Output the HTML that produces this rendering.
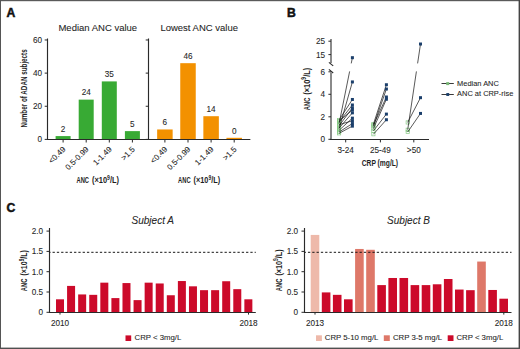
<!DOCTYPE html>
<html><head><meta charset="utf-8"><style>
html,body{margin:0;padding:0;background:#fff;width:520px;height:349px;overflow:hidden}
svg{display:block}
text{font-family:"Liberation Sans",sans-serif}
</style></head><body>
<svg width="520" height="349" viewBox="0 0 520 349">
<rect x="0" y="0" width="520" height="349" fill="#fff"/>
<text x="6.6" y="17.0" font-size="12.2" text-anchor="start" fill="#111" stroke="#111" stroke-width="0.5" font-weight="bold">A</text>
<text x="97.8" y="31.4" font-size="9.5" text-anchor="middle" fill="#262626" stroke="#262626" stroke-width="0.08" >Median ANC value</text>
<text x="199.2" y="31.4" font-size="9.5" text-anchor="middle" fill="#262626" stroke="#262626" stroke-width="0.08" >Lowest ANC value</text>
<line x1="47.5" y1="38.5" x2="47.5" y2="140.0" stroke="#2a2a2a" stroke-width="1.15" />
<line x1="44.7" y1="139.4" x2="47.5" y2="139.4" stroke="#2a2a2a" stroke-width="1" />
<line x1="44.7" y1="106.26" x2="47.5" y2="106.26" stroke="#2a2a2a" stroke-width="1" />
<line x1="44.7" y1="73.12" x2="47.5" y2="73.12" stroke="#2a2a2a" stroke-width="1" />
<line x1="44.7" y1="39.980000000000004" x2="47.5" y2="39.980000000000004" stroke="#2a2a2a" stroke-width="1" />
<line x1="148.5" y1="38.5" x2="148.5" y2="140.0" stroke="#2a2a2a" stroke-width="1.15" />
<line x1="145.7" y1="139.4" x2="148.5" y2="139.4" stroke="#2a2a2a" stroke-width="1" />
<line x1="145.7" y1="106.26" x2="148.5" y2="106.26" stroke="#2a2a2a" stroke-width="1" />
<line x1="145.7" y1="73.12" x2="148.5" y2="73.12" stroke="#2a2a2a" stroke-width="1" />
<line x1="145.7" y1="39.980000000000004" x2="148.5" y2="39.980000000000004" stroke="#2a2a2a" stroke-width="1" />
<text x="42.0" y="142.3" font-size="8.2" text-anchor="end" fill="#262626" stroke="#262626" stroke-width="0.08" >0</text>
<text x="42.0" y="109.16000000000001" font-size="8.2" text-anchor="end" fill="#262626" stroke="#262626" stroke-width="0.08" >20</text>
<text x="42.0" y="76.02000000000001" font-size="8.2" text-anchor="end" fill="#262626" stroke="#262626" stroke-width="0.08" >40</text>
<text x="42.0" y="42.88" font-size="8.2" text-anchor="end" fill="#262626" stroke="#262626" stroke-width="0.08" >60</text>
<line x1="47.0" y1="139.5" x2="250.2" y2="139.5" stroke="#2a2a2a" stroke-width="1.15" />
<rect x="55.60" y="136.09" width="15.00" height="3.31" fill="#38aa34" />
<text x="63.1" y="131.786" font-size="8.2" text-anchor="middle" fill="#262626" stroke="#262626" stroke-width="0.08" >2</text>
<line x1="63.1" y1="139.4" x2="63.1" y2="142.5" stroke="#2a2a2a" stroke-width="1" />
<text transform="translate(66.1,149.8) rotate(-45)" font-size="8" text-anchor="end" fill="#262626" stroke="#262626" stroke-width="0.08">&lt;0.49</text>
<rect x="78.70" y="99.63" width="15.00" height="39.77" fill="#38aa34" />
<text x="86.2" y="95.33200000000001" font-size="8.2" text-anchor="middle" fill="#262626" stroke="#262626" stroke-width="0.08" >24</text>
<line x1="86.2" y1="139.4" x2="86.2" y2="142.5" stroke="#2a2a2a" stroke-width="1" />
<text transform="translate(89.2,149.8) rotate(-45)" font-size="8" text-anchor="end" fill="#262626" stroke="#262626" stroke-width="0.08">0.5-0.99</text>
<rect x="101.80" y="81.41" width="15.00" height="58.00" fill="#38aa34" />
<text x="109.30000000000001" y="77.105" font-size="8.2" text-anchor="middle" fill="#262626" stroke="#262626" stroke-width="0.08" >35</text>
<line x1="109.30000000000001" y1="139.4" x2="109.30000000000001" y2="142.5" stroke="#2a2a2a" stroke-width="1" />
<text transform="translate(112.30000000000001,149.8) rotate(-45)" font-size="8" text-anchor="end" fill="#262626" stroke="#262626" stroke-width="0.08">1-1.49</text>
<rect x="124.90" y="131.12" width="15.00" height="8.28" fill="#38aa34" />
<text x="132.4" y="126.81500000000001" font-size="8.2" text-anchor="middle" fill="#262626" stroke="#262626" stroke-width="0.08" >5</text>
<line x1="132.4" y1="139.4" x2="132.4" y2="142.5" stroke="#2a2a2a" stroke-width="1" />
<text transform="translate(135.4,149.8) rotate(-45)" font-size="8" text-anchor="end" fill="#262626" stroke="#262626" stroke-width="0.08">&gt;1.5</text>
<rect x="157.15" y="129.46" width="15.50" height="9.94" fill="#f39100" />
<text x="164.9" y="125.158" font-size="8.2" text-anchor="middle" fill="#262626" stroke="#262626" stroke-width="0.08" >6</text>
<line x1="164.9" y1="139.4" x2="164.9" y2="142.5" stroke="#2a2a2a" stroke-width="1" />
<text transform="translate(167.9,149.8) rotate(-45)" font-size="8" text-anchor="end" fill="#262626" stroke="#262626" stroke-width="0.08">&lt;0.49</text>
<rect x="180.25" y="63.18" width="15.50" height="76.22" fill="#f39100" />
<text x="188.0" y="58.878" font-size="8.2" text-anchor="middle" fill="#262626" stroke="#262626" stroke-width="0.08" >46</text>
<line x1="188.0" y1="139.4" x2="188.0" y2="142.5" stroke="#2a2a2a" stroke-width="1" />
<text transform="translate(191.0,149.8) rotate(-45)" font-size="8" text-anchor="end" fill="#262626" stroke="#262626" stroke-width="0.08">0.5-0.99</text>
<rect x="203.35" y="116.20" width="15.50" height="23.20" fill="#f39100" />
<text x="211.10000000000002" y="111.902" font-size="8.2" text-anchor="middle" fill="#262626" stroke="#262626" stroke-width="0.08" >14</text>
<line x1="211.10000000000002" y1="139.4" x2="211.10000000000002" y2="142.5" stroke="#2a2a2a" stroke-width="1" />
<text transform="translate(214.10000000000002,149.8) rotate(-45)" font-size="8" text-anchor="end" fill="#262626" stroke="#262626" stroke-width="0.08">1-1.49</text>
<rect x="226.45" y="137.80" width="15.50" height="1.60" fill="#f39100" />
<text x="234.20000000000002" y="133.7" font-size="8.2" text-anchor="middle" fill="#262626" stroke="#262626" stroke-width="0.08" >0</text>
<line x1="234.20000000000002" y1="139.4" x2="234.20000000000002" y2="142.5" stroke="#2a2a2a" stroke-width="1" />
<text transform="translate(237.20000000000002,149.8) rotate(-45)" font-size="8" text-anchor="end" fill="#262626" stroke="#262626" stroke-width="0.08">&gt;1.5</text>
<line x1="47.0" y1="139.5" x2="250.2" y2="139.5" stroke="#2a2a2a" stroke-width="1.15" />
<g transform="translate(76.5,183.1)"><text x="0" y="0" font-size="9.6" font-weight="bold" fill="#1e1e1e" textLength="12.5" lengthAdjust="spacingAndGlyphs">ANC</text><text x="15.5" y="0" font-size="9.6" font-weight="bold" fill="#1e1e1e" textLength="27.0" lengthAdjust="spacingAndGlyphs">(×10<tspan font-size="6.6" dy="-3.5">9</tspan><tspan dy="3.5">/L)</tspan></text></g>
<g transform="translate(178.1,183.1)"><text x="0" y="0" font-size="9.6" font-weight="bold" fill="#1e1e1e" textLength="12.5" lengthAdjust="spacingAndGlyphs">ANC</text><text x="15.5" y="0" font-size="9.6" font-weight="bold" fill="#1e1e1e" textLength="26.5" lengthAdjust="spacingAndGlyphs">(×10<tspan font-size="6.6" dy="-3.5">9</tspan><tspan dy="3.5">/L)</tspan></text></g>
<g transform="translate(26.7,127.6) rotate(-90)"><text x="0" y="0" font-size="9.4" font-weight="bold" fill="#1e1e1e" textLength="78.3" lengthAdjust="spacingAndGlyphs">Number of ADAN subjects</text></g>
<text x="286.9" y="16.8" font-size="12.2" text-anchor="start" fill="#111" stroke="#111" stroke-width="0.5" font-weight="bold">B</text>
<line x1="331.0" y1="38.9" x2="331.0" y2="63.0" stroke="#2a2a2a" stroke-width="1.1" />
<line x1="328.9" y1="62.3" x2="333.2" y2="65.9" stroke="#2a2a2a" stroke-width="1.1" />
<line x1="328.9" y1="69.4" x2="333.2" y2="73.0" stroke="#2a2a2a" stroke-width="1.1" />
<line x1="331.0" y1="72.6" x2="331.0" y2="139.9" stroke="#2a2a2a" stroke-width="1.1" />
<line x1="328.4" y1="41.2" x2="331.0" y2="41.2" stroke="#2a2a2a" stroke-width="1" />
<text x="325.0" y="44.1" font-size="8.2" text-anchor="end" fill="#262626" stroke="#262626" stroke-width="0.08" >25</text>
<line x1="328.4" y1="54.6" x2="331.0" y2="54.6" stroke="#2a2a2a" stroke-width="1" />
<text x="325.0" y="57.5" font-size="8.2" text-anchor="end" fill="#262626" stroke="#262626" stroke-width="0.08" >15</text>
<line x1="328.4" y1="139.3" x2="331.0" y2="139.3" stroke="#2a2a2a" stroke-width="1" />
<text x="325.0" y="142.20000000000002" font-size="8.2" text-anchor="end" fill="#262626" stroke="#262626" stroke-width="0.08" >0</text>
<line x1="328.4" y1="116.80000000000001" x2="331.0" y2="116.80000000000001" stroke="#2a2a2a" stroke-width="1" />
<text x="325.0" y="119.70000000000002" font-size="8.2" text-anchor="end" fill="#262626" stroke="#262626" stroke-width="0.08" >2</text>
<line x1="328.4" y1="94.30000000000001" x2="331.0" y2="94.30000000000001" stroke="#2a2a2a" stroke-width="1" />
<text x="325.0" y="97.20000000000002" font-size="8.2" text-anchor="end" fill="#262626" stroke="#262626" stroke-width="0.08" >4</text>
<line x1="328.4" y1="71.80000000000001" x2="331.0" y2="71.80000000000001" stroke="#2a2a2a" stroke-width="1" />
<text x="325.0" y="74.70000000000002" font-size="8.2" text-anchor="end" fill="#262626" stroke="#262626" stroke-width="0.08" >6</text>
<line x1="330.0" y1="139.5" x2="429.0" y2="139.5" stroke="#2a2a2a" stroke-width="1.15" />
<line x1="345.7" y1="139.4" x2="345.7" y2="142.4" stroke="#2a2a2a" stroke-width="1" />
<text x="345.7" y="153.0" font-size="8.2" text-anchor="middle" fill="#262626" stroke="#262626" stroke-width="0.08" >3-24</text>
<line x1="380.4" y1="139.4" x2="380.4" y2="142.4" stroke="#2a2a2a" stroke-width="1" />
<text x="380.4" y="153.0" font-size="8.2" text-anchor="middle" fill="#262626" stroke="#262626" stroke-width="0.08" >25-49</text>
<line x1="413.8" y1="139.4" x2="413.8" y2="142.4" stroke="#2a2a2a" stroke-width="1" />
<text x="413.8" y="153.0" font-size="8.2" text-anchor="middle" fill="#262626" stroke="#262626" stroke-width="0.08" >&gt;50</text>
<g transform="translate(361.7,166.4)"><text x="0" y="0" font-size="9.6" font-weight="bold" fill="#1e1e1e" textLength="36.4" lengthAdjust="spacingAndGlyphs">CRP (mg/L)</text></g>
<g transform="translate(309.8,110.2) rotate(-90)"><text x="0" y="0" font-size="9.6" font-weight="bold" fill="#1e1e1e" textLength="12.5" lengthAdjust="spacingAndGlyphs">ANC</text><text x="15.5" y="0" font-size="9.6" font-weight="bold" fill="#1e1e1e" textLength="27.0" lengthAdjust="spacingAndGlyphs">(×10<tspan font-size="6.6" dy="-3.5">9</tspan><tspan dy="3.5">/L)</tspan></text></g>
<rect x="337.50" y="121.95" width="3.2" height="3.2" fill="none" stroke="#86c984" stroke-width="0.7"/>
<rect x="337.50" y="127.01" width="3.2" height="3.2" fill="none" stroke="#86c984" stroke-width="0.7"/>
<rect x="337.50" y="118.35" width="3.2" height="3.2" fill="none" stroke="#86c984" stroke-width="0.7"/>
<rect x="337.50" y="120.26" width="3.2" height="3.2" fill="none" stroke="#86c984" stroke-width="0.7"/>
<rect x="337.50" y="124.20" width="3.2" height="3.2" fill="none" stroke="#86c984" stroke-width="0.7"/>
<rect x="337.50" y="119.48" width="3.2" height="3.2" fill="none" stroke="#86c984" stroke-width="0.7"/>
<rect x="337.50" y="126.45" width="3.2" height="3.2" fill="none" stroke="#86c984" stroke-width="0.7"/>
<rect x="337.50" y="128.70" width="3.2" height="3.2" fill="none" stroke="#86c984" stroke-width="0.7"/>
<rect x="337.50" y="123.08" width="3.2" height="3.2" fill="none" stroke="#86c984" stroke-width="0.7"/>
<rect x="337.50" y="130.39" width="3.2" height="3.2" fill="none" stroke="#86c984" stroke-width="0.7"/>
<rect x="337.50" y="131.74" width="3.2" height="3.2" fill="none" stroke="#86c984" stroke-width="0.7"/>
<rect x="371.80" y="122.51" width="3.2" height="3.2" fill="none" stroke="#86c984" stroke-width="0.7"/>
<rect x="371.80" y="124.76" width="3.2" height="3.2" fill="none" stroke="#86c984" stroke-width="0.7"/>
<rect x="371.80" y="123.64" width="3.2" height="3.2" fill="none" stroke="#86c984" stroke-width="0.7"/>
<rect x="371.80" y="127.01" width="3.2" height="3.2" fill="none" stroke="#86c984" stroke-width="0.7"/>
<rect x="371.80" y="129.26" width="3.2" height="3.2" fill="none" stroke="#86c984" stroke-width="0.7"/>
<rect x="371.80" y="132.64" width="3.2" height="3.2" fill="none" stroke="#86c984" stroke-width="0.7"/>
<rect x="406.10" y="128.14" width="3.2" height="3.2" fill="none" stroke="#86c984" stroke-width="0.7"/>
<rect x="406.10" y="120.83" width="3.2" height="3.2" fill="none" stroke="#86c984" stroke-width="0.7"/>
<rect x="406.10" y="130.39" width="3.2" height="3.2" fill="none" stroke="#86c984" stroke-width="0.7"/>
<line x1="339.1" y1="123.55" x2="352.4" y2="57.68" stroke="#111" stroke-width="0.7"/>
<line x1="339.1" y1="128.61" x2="352.4" y2="81.93" stroke="#111" stroke-width="0.7"/>
<line x1="339.1" y1="119.95" x2="352.4" y2="99.48" stroke="#111" stroke-width="0.7"/>
<line x1="339.1" y1="121.86" x2="352.4" y2="104.99" stroke="#111" stroke-width="0.7"/>
<line x1="339.1" y1="125.80" x2="352.4" y2="107.80" stroke="#111" stroke-width="0.7"/>
<line x1="339.1" y1="121.08" x2="352.4" y2="110.05" stroke="#111" stroke-width="0.7"/>
<line x1="339.1" y1="128.05" x2="352.4" y2="112.86" stroke="#111" stroke-width="0.7"/>
<line x1="339.1" y1="130.30" x2="352.4" y2="118.15" stroke="#111" stroke-width="0.7"/>
<line x1="339.1" y1="124.68" x2="352.4" y2="120.74" stroke="#111" stroke-width="0.7"/>
<line x1="339.1" y1="131.99" x2="352.4" y2="123.55" stroke="#111" stroke-width="0.7"/>
<line x1="339.1" y1="133.34" x2="352.4" y2="126.14" stroke="#111" stroke-width="0.7"/>
<line x1="373.4" y1="124.11" x2="386.4" y2="84.74" stroke="#111" stroke-width="0.7"/>
<line x1="373.4" y1="126.36" x2="386.4" y2="89.01" stroke="#111" stroke-width="0.7"/>
<line x1="373.4" y1="125.24" x2="386.4" y2="97.00" stroke="#111" stroke-width="0.7"/>
<line x1="373.4" y1="128.61" x2="386.4" y2="99.25" stroke="#111" stroke-width="0.7"/>
<line x1="373.4" y1="130.86" x2="386.4" y2="114.10" stroke="#111" stroke-width="0.7"/>
<line x1="373.4" y1="134.24" x2="386.4" y2="119.73" stroke="#111" stroke-width="0.7"/>
<line x1="407.7" y1="129.74" x2="420.5" y2="44.01" stroke="#111" stroke-width="0.7"/>
<line x1="407.7" y1="122.43" x2="420.5" y2="97.68" stroke="#111" stroke-width="0.7"/>
<line x1="407.7" y1="131.99" x2="420.5" y2="113.43" stroke="#111" stroke-width="0.7"/>
<rect x="334.50" y="63.40" width="95.00" height="8.00" fill="#fff" />
<rect x="350.90" y="56.18" width="3.00" height="3.00" fill="#1b3f6b" />
<rect x="350.90" y="80.43" width="3.00" height="3.00" fill="#1b3f6b" />
<rect x="350.90" y="97.98" width="3.00" height="3.00" fill="#1b3f6b" />
<rect x="350.90" y="103.49" width="3.00" height="3.00" fill="#1b3f6b" />
<rect x="350.90" y="106.30" width="3.00" height="3.00" fill="#1b3f6b" />
<rect x="350.90" y="108.55" width="3.00" height="3.00" fill="#1b3f6b" />
<rect x="350.90" y="111.36" width="3.00" height="3.00" fill="#1b3f6b" />
<rect x="350.90" y="116.65" width="3.00" height="3.00" fill="#1b3f6b" />
<rect x="350.90" y="119.24" width="3.00" height="3.00" fill="#1b3f6b" />
<rect x="350.90" y="122.05" width="3.00" height="3.00" fill="#1b3f6b" />
<rect x="350.90" y="124.64" width="3.00" height="3.00" fill="#1b3f6b" />
<rect x="384.90" y="83.24" width="3.00" height="3.00" fill="#1b3f6b" />
<rect x="384.90" y="87.51" width="3.00" height="3.00" fill="#1b3f6b" />
<rect x="384.90" y="95.50" width="3.00" height="3.00" fill="#1b3f6b" />
<rect x="384.90" y="97.75" width="3.00" height="3.00" fill="#1b3f6b" />
<rect x="384.90" y="112.60" width="3.00" height="3.00" fill="#1b3f6b" />
<rect x="384.90" y="118.23" width="3.00" height="3.00" fill="#1b3f6b" />
<rect x="419.00" y="42.51" width="3.00" height="3.00" fill="#1b3f6b" />
<rect x="419.00" y="96.18" width="3.00" height="3.00" fill="#1b3f6b" />
<rect x="419.00" y="111.93" width="3.00" height="3.00" fill="#1b3f6b" />
<line x1="441.5" y1="83.5" x2="453.8" y2="83.5" stroke="#222" stroke-width="0.9" />
<rect x="446.2" y="82.1" width="3.0" height="3.0" fill="#79b877"/>
<text x="457.1" y="85.9" font-size="7.45" text-anchor="start" fill="#262626" stroke="#262626" stroke-width="0.08" >Median ANC</text>
<line x1="441.5" y1="94.5" x2="453.8" y2="94.5" stroke="#222" stroke-width="0.9" />
<rect x="446.30" y="93.05" width="2.90" height="2.90" fill="#1b3f6b" />
<text x="457.1" y="96.4" font-size="7.45" text-anchor="start" fill="#262626" stroke="#262626" stroke-width="0.08" >ANC at CRP-rise</text>
<text x="6.6" y="211.9" font-size="12.2" text-anchor="start" fill="#111" stroke="#111" stroke-width="0.5" font-weight="bold">C</text>
<text x="152.8" y="224.3" font-size="10" text-anchor="middle" fill="#262626" stroke="#262626" stroke-width="0.08" font-style="italic">Subject A</text>
<rect x="56.00" y="299.31" width="8.00" height="13.19" fill="#cc0a2a" />
<rect x="67.08" y="285.91" width="8.00" height="26.59" fill="#cc0a2a" />
<rect x="78.16" y="294.44" width="8.00" height="18.06" fill="#cc0a2a" />
<rect x="89.24" y="294.84" width="8.00" height="17.66" fill="#cc0a2a" />
<rect x="100.32" y="282.66" width="8.00" height="29.84" fill="#cc0a2a" />
<rect x="111.40" y="298.09" width="8.00" height="14.41" fill="#cc0a2a" />
<rect x="122.48" y="283.07" width="8.00" height="29.43" fill="#cc0a2a" />
<rect x="133.56" y="300.12" width="8.00" height="12.38" fill="#cc0a2a" />
<rect x="144.64" y="282.66" width="8.00" height="29.84" fill="#cc0a2a" />
<rect x="155.72" y="283.47" width="8.00" height="29.03" fill="#cc0a2a" />
<rect x="166.80" y="295.25" width="8.00" height="17.25" fill="#cc0a2a" />
<rect x="177.88" y="281.04" width="8.00" height="31.46" fill="#cc0a2a" />
<rect x="188.96" y="286.32" width="8.00" height="26.18" fill="#cc0a2a" />
<rect x="200.04" y="290.17" width="8.00" height="22.33" fill="#cc0a2a" />
<rect x="211.12" y="290.17" width="8.00" height="22.33" fill="#cc0a2a" />
<rect x="222.20" y="281.24" width="8.00" height="31.26" fill="#cc0a2a" />
<rect x="233.28" y="289.16" width="8.00" height="23.34" fill="#cc0a2a" />
<rect x="244.36" y="299.31" width="8.00" height="13.19" fill="#cc0a2a" />
<line x1="49.5" y1="228.0" x2="49.5" y2="313.0" stroke="#2a2a2a" stroke-width="1.15" />
<line x1="46.5" y1="312.3" x2="49.5" y2="312.3" stroke="#2a2a2a" stroke-width="1" />
<text x="43.1" y="315.2" font-size="8.2" text-anchor="end" fill="#262626" stroke="#262626" stroke-width="0.08" >0</text>
<line x1="46.5" y1="292.0" x2="49.5" y2="292.0" stroke="#2a2a2a" stroke-width="1" />
<text x="43.1" y="294.9" font-size="8.2" text-anchor="end" fill="#262626" stroke="#262626" stroke-width="0.08" >0.5</text>
<line x1="46.5" y1="271.7" x2="49.5" y2="271.7" stroke="#2a2a2a" stroke-width="1" />
<text x="43.1" y="274.59999999999997" font-size="8.2" text-anchor="end" fill="#262626" stroke="#262626" stroke-width="0.08" >1.0</text>
<line x1="46.5" y1="251.4" x2="49.5" y2="251.4" stroke="#2a2a2a" stroke-width="1" />
<text x="43.1" y="254.3" font-size="8.2" text-anchor="end" fill="#262626" stroke="#262626" stroke-width="0.08" >1.5</text>
<line x1="46.5" y1="231.10000000000002" x2="49.5" y2="231.10000000000002" stroke="#2a2a2a" stroke-width="1" />
<text x="43.1" y="234.00000000000003" font-size="8.2" text-anchor="end" fill="#262626" stroke="#262626" stroke-width="0.08" >2.0</text>
<line x1="49.0" y1="312.5" x2="255.8" y2="312.5" stroke="#2a2a2a" stroke-width="1.15" />
<line x1="49.5" y1="252.3" x2="255.8" y2="252.3" stroke="#161616" stroke-width="1.0" stroke-dasharray="2.3,2.0" stroke-dashoffset="1.25"/>
<line x1="60.0" y1="312" x2="60.0" y2="314.6" stroke="#2a2a2a" stroke-width="1" />
<line x1="248.5" y1="312" x2="248.5" y2="314.6" stroke="#2a2a2a" stroke-width="1" />
<text x="60.0" y="326.0" font-size="8.2" text-anchor="middle" fill="#262626" stroke="#262626" stroke-width="0.08" >2010</text>
<text x="248.5" y="326.0" font-size="8.2" text-anchor="middle" fill="#262626" stroke="#262626" stroke-width="0.08" >2018</text>
<text x="408.5" y="224.3" font-size="10" text-anchor="middle" fill="#262626" stroke="#262626" stroke-width="0.08" font-style="italic">Subject B</text>
<rect x="310.70" y="234.92" width="8.60" height="77.58" fill="#eeb9aa" />
<rect x="321.80" y="292.41" width="8.60" height="20.09" fill="#cc0a2a" />
<rect x="332.90" y="294.84" width="8.60" height="17.66" fill="#cc0a2a" />
<rect x="344.00" y="299.31" width="8.60" height="13.19" fill="#cc0a2a" />
<rect x="355.10" y="248.96" width="8.60" height="63.54" fill="#de7869" />
<rect x="366.20" y="249.78" width="8.60" height="62.72" fill="#de7869" />
<rect x="377.30" y="285.10" width="8.60" height="27.40" fill="#cc0a2a" />
<rect x="388.40" y="277.99" width="8.60" height="34.51" fill="#cc0a2a" />
<rect x="399.50" y="277.99" width="8.60" height="34.51" fill="#cc0a2a" />
<rect x="410.60" y="285.10" width="8.60" height="27.40" fill="#cc0a2a" />
<rect x="421.70" y="285.10" width="8.60" height="27.40" fill="#cc0a2a" />
<rect x="432.80" y="284.29" width="8.60" height="28.21" fill="#cc0a2a" />
<rect x="443.90" y="279.01" width="8.60" height="33.49" fill="#cc0a2a" />
<rect x="455.00" y="289.56" width="8.60" height="22.94" fill="#cc0a2a" />
<rect x="466.10" y="290.17" width="8.60" height="22.33" fill="#cc0a2a" />
<rect x="477.20" y="261.55" width="8.60" height="50.95" fill="#de7869" />
<rect x="488.30" y="289.97" width="8.60" height="22.53" fill="#cc0a2a" />
<rect x="499.40" y="298.70" width="8.60" height="13.80" fill="#cc0a2a" />
<line x1="304.5" y1="228.0" x2="304.5" y2="313.0" stroke="#2a2a2a" stroke-width="1.15" />
<line x1="301.5" y1="312.3" x2="304.5" y2="312.3" stroke="#2a2a2a" stroke-width="1" />
<text x="298.1" y="315.2" font-size="8.2" text-anchor="end" fill="#262626" stroke="#262626" stroke-width="0.08" >0</text>
<line x1="301.5" y1="292.0" x2="304.5" y2="292.0" stroke="#2a2a2a" stroke-width="1" />
<text x="298.1" y="294.9" font-size="8.2" text-anchor="end" fill="#262626" stroke="#262626" stroke-width="0.08" >0.5</text>
<line x1="301.5" y1="271.7" x2="304.5" y2="271.7" stroke="#2a2a2a" stroke-width="1" />
<text x="298.1" y="274.59999999999997" font-size="8.2" text-anchor="end" fill="#262626" stroke="#262626" stroke-width="0.08" >1.0</text>
<line x1="301.5" y1="251.4" x2="304.5" y2="251.4" stroke="#2a2a2a" stroke-width="1" />
<text x="298.1" y="254.3" font-size="8.2" text-anchor="end" fill="#262626" stroke="#262626" stroke-width="0.08" >1.5</text>
<line x1="301.5" y1="231.10000000000002" x2="304.5" y2="231.10000000000002" stroke="#2a2a2a" stroke-width="1" />
<text x="298.1" y="234.00000000000003" font-size="8.2" text-anchor="end" fill="#262626" stroke="#262626" stroke-width="0.08" >2.0</text>
<line x1="304.0" y1="312.5" x2="511.5" y2="312.5" stroke="#2a2a2a" stroke-width="1.15" />
<line x1="304.5" y1="252.3" x2="511.5" y2="252.3" stroke="#161616" stroke-width="1.0" stroke-dasharray="2.3,2.0" stroke-dashoffset="0.85"/>
<line x1="315.0" y1="312" x2="315.0" y2="314.6" stroke="#2a2a2a" stroke-width="1" />
<line x1="503.8" y1="312" x2="503.8" y2="314.6" stroke="#2a2a2a" stroke-width="1" />
<text x="315.0" y="326.0" font-size="8.2" text-anchor="middle" fill="#262626" stroke="#262626" stroke-width="0.08" >2013</text>
<text x="503.8" y="326.0" font-size="8.2" text-anchor="middle" fill="#262626" stroke="#262626" stroke-width="0.08" >2018</text>
<g transform="translate(27.2,291.3) rotate(-90)"><text x="0" y="0" font-size="9.6" font-weight="bold" fill="#1e1e1e" textLength="12.7" lengthAdjust="spacingAndGlyphs">ANC</text><text x="15.7" y="0" font-size="9.6" font-weight="bold" fill="#1e1e1e" textLength="25.5" lengthAdjust="spacingAndGlyphs">(×10<tspan font-size="6.6" dy="-3.5">9</tspan><tspan dy="3.5">/L)</tspan></text></g>
<g transform="translate(281.7,291.3) rotate(-90)"><text x="0" y="0" font-size="9.6" font-weight="bold" fill="#1e1e1e" textLength="12.7" lengthAdjust="spacingAndGlyphs">ANC</text><text x="15.7" y="0" font-size="9.6" font-weight="bold" fill="#1e1e1e" textLength="26.3" lengthAdjust="spacingAndGlyphs">(×10<tspan font-size="6.6" dy="-3.5">9</tspan><tspan dy="3.5">/L)</tspan></text></g>
<rect x="125.50" y="335.40" width="5.70" height="5.60" fill="#cc0a2a" />
<text x="134.5" y="340.4" font-size="7.8" text-anchor="start" fill="#262626" stroke="#262626" stroke-width="0.08" >CRP &lt; 3mg/L</text>
<rect x="316.00" y="335.30" width="5.90" height="5.70" fill="#eeb9aa" />
<text x="324.8" y="340.4" font-size="7.8" text-anchor="start" fill="#262626" stroke="#262626" stroke-width="0.08" >CRP 5-10 mg/L</text>
<rect x="383.80" y="335.30" width="6.00" height="5.70" fill="#de7869" />
<text x="392.9" y="340.4" font-size="7.8" text-anchor="start" fill="#262626" stroke="#262626" stroke-width="0.08" >CRP 3-5 mg/L</text>
<rect x="447.70" y="335.30" width="5.80" height="5.70" fill="#cc0a2a" />
<text x="456.4" y="340.4" font-size="7.8" text-anchor="start" fill="#262626" stroke="#262626" stroke-width="0.08" >CRP &lt; 3mg/L</text>
<rect x="0.00" y="0.00" width="520.00" height="1.20" fill="#5a5a5a" />
<rect x="0.00" y="0.00" width="1.00" height="349.00" fill="#555" />
<rect x="518.60" y="0.00" width="1.40" height="349.00" fill="#444" />
<rect x="0.00" y="347.60" width="520.00" height="1.40" fill="#505050" />
</svg>
</body></html>
